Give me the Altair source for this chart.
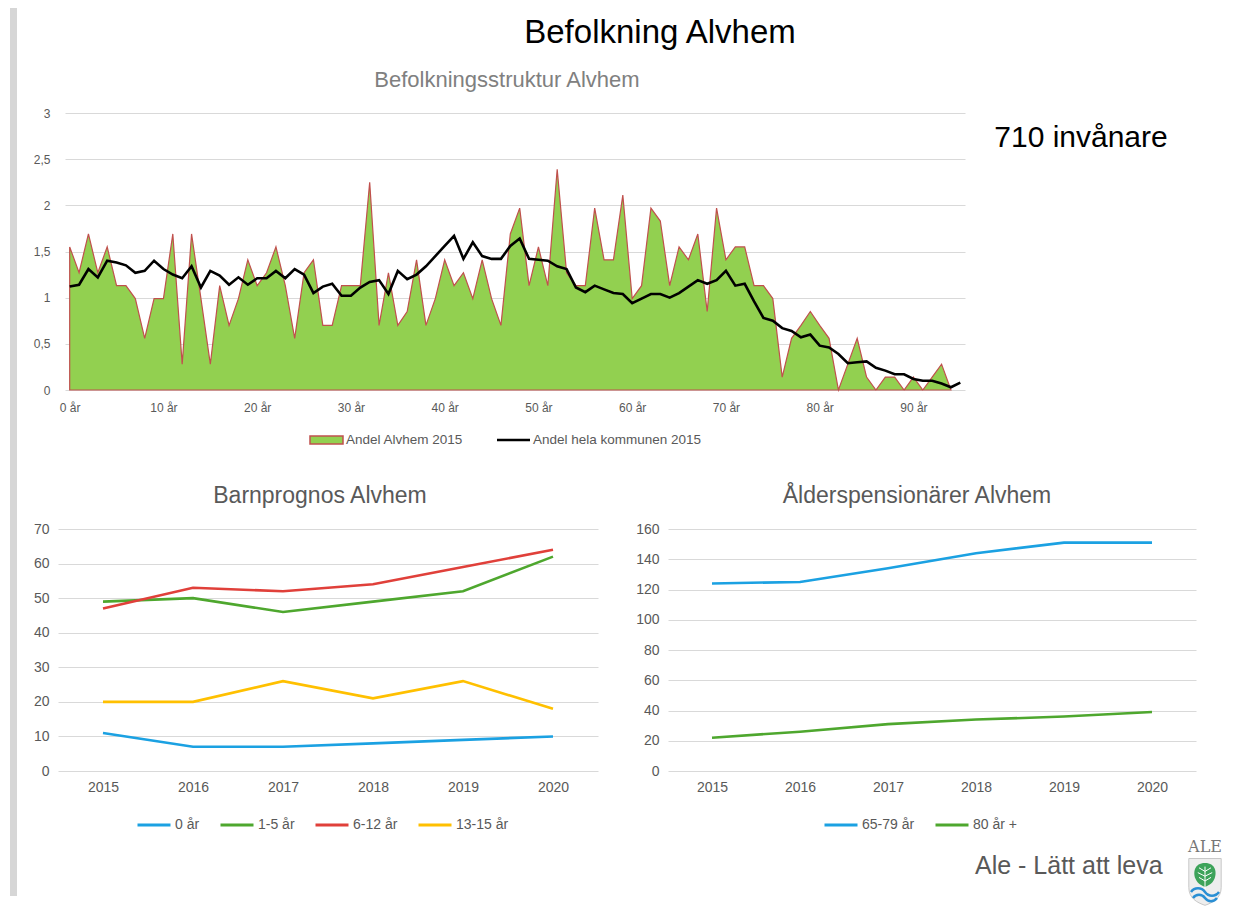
import altair as alt
import pandas as pd

FONT = "Liberation Sans"
GRAY = "#595959"
GRID = "#d9d9d9"

# ---------------- data ----------------
ages = list(range(96))
alvhem_2015 = [
    1.55, 1.27, 1.69, 1.27, 1.55, 1.13, 1.13, 0.99, 0.56, 0.99,
    0.99, 1.69, 0.28, 1.69, 0.99, 0.28, 1.13, 0.70, 0.99, 1.41,
    1.13, 1.27, 1.55, 1.13, 0.56, 1.27, 1.41, 0.70, 0.70, 1.13,
    1.13, 1.13, 2.25, 0.70, 1.27, 0.70, 0.85, 1.41, 0.70, 0.99,
    1.41, 1.13, 1.27, 0.99, 1.41, 0.99, 0.70, 1.69, 1.97, 1.13,
    1.55, 1.13, 2.39, 1.27, 1.13, 1.13, 1.97, 1.41, 1.41, 2.11,
    0.99, 1.13, 1.97, 1.83, 1.13, 1.55, 1.41, 1.69, 0.85, 1.97,
    1.41, 1.55, 1.55, 1.13, 1.13, 0.99, 0.14, 0.56, 0.70, 0.85,
    0.70, 0.56, 0.00, 0.28, 0.56, 0.14, 0.00, 0.14, 0.14, 0.00,
    0.14, 0.00, 0.14, 0.28, 0.00,
]
kommun_2015 = [
    1.12, 1.14, 1.31, 1.22, 1.40, 1.38, 1.35, 1.27, 1.29, 1.40,
    1.31, 1.25, 1.21, 1.34, 1.11, 1.29, 1.24, 1.14, 1.22, 1.14,
    1.21, 1.21, 1.29, 1.21, 1.31, 1.25, 1.05, 1.12, 1.15, 1.02,
    1.02, 1.11, 1.17, 1.19, 1.04, 1.29, 1.20, 1.25, 1.34, 1.45,
    1.56, 1.67, 1.42, 1.60, 1.45, 1.42, 1.42, 1.56, 1.64, 1.42,
    1.41, 1.40, 1.34, 1.31, 1.11, 1.06, 1.13, 1.09, 1.05, 1.04,
    0.94, 0.99, 1.04, 1.04, 1.00, 1.05, 1.12, 1.19, 1.15, 1.19,
    1.29, 1.13, 1.15, 0.96, 0.78, 0.75, 0.67, 0.64, 0.57, 0.60,
    0.48, 0.46, 0.39, 0.29, 0.30, 0.31, 0.24, 0.21, 0.17, 0.17,
    0.12, 0.10, 0.10, 0.07, 0.03, 0.08,
]
age_ticks = [0, 10, 20, 30, 40, 50, 60, 70, 80, 90]
share_ticks = [0, 0.5, 1, 1.5, 2, 2.5, 3]

years = ["2015", "2016", "2017", "2018", "2019", "2020"]
barn_series = ["0 år", "1-5 år", "6-12 år", "13-15 år"]
barn_0 = [11, 7, 7, 8, 9, 10]
barn_1_5 = [49, 50, 46, 49, 52, 62]
barn_6_12 = [47, 53, 52, 54, 59, 64]
barn_13_15 = [20, 20, 26, 21, 26, 18]
barn_colors = ["#1BA1E2", "#4EA72E", "#E0403A", "#FFC000"]
barn_ticks = [0, 10, 20, 30, 40, 50, 60, 70]

pens_series = ["65-79 år", "80 år +"]
pens_65_79 = [124, 125, 134, 144, 151, 151]
pens_80 = [22, 26, 31, 34, 36, 39]
pens_colors = ["#1BA1E2", "#4EA72E"]
pens_ticks = [0, 20, 40, 60, 80, 100, 120, 140, 160]

one = pd.DataFrame({"a": [0]})

# ---------------- top chart ----------------
area_df = pd.DataFrame({"age": ages[:len(alvhem_2015)], "andel": alvhem_2015})
kom_df = pd.DataFrame({"age": ages, "andel": kommun_2015})

xscale = alt.Scale(domain=[-0.5, 95.5], nice=False, zero=False, range=[7, 907])
yscale = alt.Scale(domain=[0, 3], nice=False)

area = alt.Chart(area_df).mark_area(
    color="#92D050", stroke="#C0504D", strokeWidth=1.2, opacity=1
).encode(
    x=alt.X("age:Q", scale=xscale, axis=alt.Axis(
        values=age_ticks, labelExpr="datum.value + ' år'", grid=False, ticks=False,
        domain=False, labelFontSize=12, labelColor=GRAY, labelPadding=12, title=None)),
    y=alt.Y("andel:Q", scale=yscale, axis=alt.Axis(
        values=share_ticks, labelExpr="replace(format(datum.value, '~g'), '.', ',')",
        grid=True, gridColor=GRID, ticks=False, domain=False, labelFontSize=12,
        labelColor=GRAY, labelPadding=8, title=None)),
)
kline = alt.Chart(kom_df).mark_line(color="black", strokeWidth=2.6).encode(
    x="age:Q", y="andel:Q"
)


def txt(text, x, y, size, color=GRAY, align="center", font=FONT):
    return alt.Chart(one).mark_text(
        text=text, fontSize=size, color=color, align=align, baseline="middle", font=font
    ).encode(x=alt.value(x), y=alt.value(y))


bar = alt.Chart(one).mark_rect(color="#d6d6d6").encode(
    x=alt.value(-48), x2=alt.value(-41), y=alt.value(-105), y2=alt.value(783)
)
leg_sw = alt.Chart(one).mark_rect(fill="#92D050", stroke="#C0504D", strokeWidth=1.5).encode(
    x=alt.value(252), x2=alt.value(285), y=alt.value(323), y2=alt.value(331)
)
leg_ln = alt.Chart(one).mark_rule(color="black", strokeWidth=2.6).encode(
    x=alt.value(439), x2=alt.value(472), y=alt.value(327)
)

top = alt.layer(
    bar, area, kline, leg_sw, leg_ln,
    txt("Andel Alvhem 2015", 288, 327, 13.5, align="left"),
    txt("Andel hela kommunen 2015", 475, 327, 13.5, align="left"),
    txt("Befolkning Alvhem", 602, -80, 33, color="#000000"),
    txt("Befolkningsstruktur Alvhem", 449, -33, 22, color="#808080"),
    txt("710 invånare", 1023, 25, 30, color="#000000"),
).properties(width=907, height=277)

# ---------------- bottom left ----------------
rows = []
for s, vals in zip(barn_series, [barn_0, barn_1_5, barn_6_12, barn_13_15]):
    for y, v in zip(years, vals):
        rows.append({"year": y, "serie": s, "value": v})
barn_df = pd.DataFrame(rows)


def xaxis():
    return alt.Axis(labelAngle=0, ticks=False, domain=False, grid=False, labelFontSize=14,
                    labelColor=GRAY, labelPadding=9, title=None)


def yaxis(vals):
    return alt.Axis(values=vals, grid=True, gridColor=GRID, ticks=False, domain=False,
                    labelFontSize=14, labelColor=GRAY, labelPadding=9, title=None)


def legend(x, y):
    return alt.Legend(orient="none", legendX=x, legendY=y, direction="horizontal",
                      title=None, symbolType="stroke", symbolSize=1089,
                      symbolStrokeWidth=3, labelFontSize=14, labelColor=GRAY,
                      labelFont=FONT, columnPadding=14, labelOffset=3)


bl = alt.Chart(barn_df).mark_line(strokeWidth=2.6).encode(
    x=alt.X("year:O", scale=alt.Scale(type="point", padding=0.5), axis=xaxis()),
    y=alt.Y("value:Q", scale=alt.Scale(domain=[0, 70], nice=False), axis=yaxis(barn_ticks)),
    color=alt.Color("serie:N", scale=alt.Scale(domain=barn_series, range=barn_colors),
                    sort=barn_series, legend=legend(78, 278)),
).properties(
    width=540, height=242,
    title=alt.TitleParams("Barnprognos Alvhem", fontSize=23, color=GRAY, font=FONT,
                          fontWeight="normal", offset=14, dx=-8, anchor="middle"),
)

# ---------------- bottom right ----------------
rows = []
for s, vals in zip(pens_series, [pens_65_79, pens_80]):
    for y, v in zip(years, vals):
        rows.append({"year": y, "serie": s, "value": v})
pens_df = pd.DataFrame(rows)

pl = alt.Chart(pens_df).mark_line(strokeWidth=2.6).encode(
    x=alt.X("year:O", scale=alt.Scale(type="point", padding=0.5), axis=xaxis()),
    y=alt.Y("value:Q", scale=alt.Scale(domain=[0, 160], nice=False), axis=yaxis(pens_ticks)),
    color=alt.Color("serie:N", scale=alt.Scale(domain=pens_series, range=pens_colors),
                    sort=pens_series, legend=legend(155, 278)),
)

shield = alt.Chart(one).mark_point(
    shape="M-0.9,-1.25 L0.9,-1.25 L0.9,0.35 C0.9,0.95 0.45,1.2 0,1.35 C-0.45,1.2 -0.9,0.95 -0.9,0.35 Z",
    size=1296, filled=True, fill="#eeeeee", stroke="#c8c8c8", strokeWidth=1, opacity=1,
).encode(x=alt.value(537), y=alt.value(352))
leaf = alt.Chart(one).mark_point(
    shape="M0,-1 C0.9,-1 1,-0.2 0.8,0.3 C0.6,0.8 0.2,0.9 0,1 C-0.2,0.9 -0.6,0.8 -0.8,0.3 C-1,-0.2 -0.9,-1 0,-1 Z",
    size=576, filled=True, fill="#3DA35A", strokeWidth=0, opacity=1,
).encode(x=alt.value(537), y=alt.value(346))
veins = alt.Chart(one).mark_point(
    shape="M0,-0.7 L0,1.2 M0,-0.3 L-0.5,-0.6 M0,-0.3 L0.5,-0.6 M0,0.1 L-0.6,-0.2 M0,0.1 L0.6,-0.2 M0,0.5 L-0.5,0.2 M0,0.5 L0.5,0.2",
    size=576, filled=False, stroke="#ffffff", strokeWidth=1, opacity=1,
).encode(x=alt.value(537), y=alt.value(346))
wave1 = alt.Chart(one).mark_point(
    shape="M-1,0 C-0.75,-0.35 -0.25,-0.35 0,0 C0.25,0.35 0.75,0.35 1,0",
    size=784, filled=False, stroke="#2A8FD4", strokeWidth=2.5, opacity=1,
).encode(x=alt.value(537), y=alt.value(363))
wave2 = alt.Chart(one).mark_point(
    shape="M-1,0 C-0.75,-0.35 -0.25,-0.35 0,0 C0.25,0.35 0.75,0.35 1,0",
    size=576, filled=False, stroke="#2A8FD4", strokeWidth=2.5, opacity=1,
).encode(x=alt.value(537), y=alt.value(369))

br = alt.layer(
    pl,
    txt("Ale - Lätt att leva", 307, 337, 25, align="left"),
    txt("ALE", 537, 318, 16, color="#777777", font="DejaVu Serif"),
    shield, leaf, veins, wave1, wave2,
).properties(
    width=528, height=242,
    title=alt.TitleParams("Ålderspensionärer Alvhem", fontSize=23, color=GRAY, font=FONT,
                          fontWeight="normal", offset=14, dx=-15, anchor="middle"),
)

bottom_row = alt.hconcat(bl, br, spacing=70, bounds="flush").resolve_scale(
    color="independent"
).resolve_legend(color="independent")

chart = alt.vconcat(top, bottom_row, spacing=139, bounds="flush").resolve_scale(
    color="independent"
).resolve_legend(color="independent").properties(
    padding={"left": 2, "top": 0, "right": 0, "bottom": 0}
).configure(font=FONT).configure_view(strokeWidth=0)

chart.save("out.html", embed_options={"renderer": "svg", "actions": False})
